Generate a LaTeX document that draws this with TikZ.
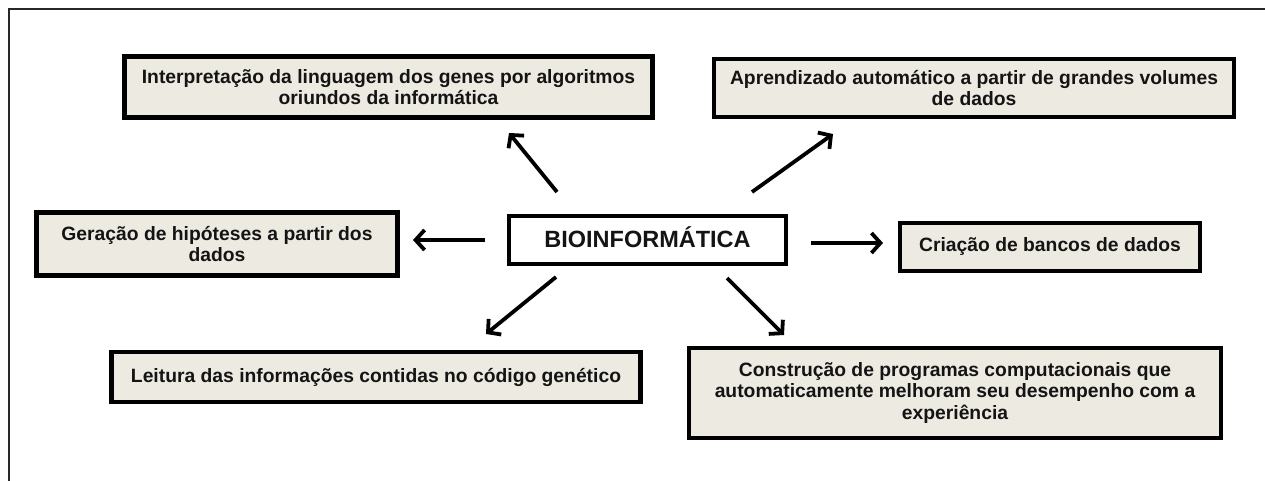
\documentclass[tikz,border=0pt]{standalone}
\usepackage{fontspec}
\setmainfont{Liberation Sans}
\usetikzlibrary{arrows.meta}
\definecolor{boxfill}{RGB}{237,235,225}
\definecolor{framecol}{RGB}{40,40,40}
\definecolor{txt}{RGB}{20,20,20}
\tikzset{
  infobox/.style={draw=black, line width=4.5pt, fill=boxfill, inner sep=0pt,
    align=center, text=txt, font=\fontsize{19.3}{21.5}\selectfont\bfseries},
  centerbox/.style={draw=black, line width=3.5pt, fill=white, inner sep=0pt,
    align=center, text=txt, font=\fontsize{23.5}{26}\selectfont\bfseries},
  arr/.style={line width=3.8pt, -{Straight Barb[length=9pt,width=20pt]}},
}
\begin{document}
\begin{tikzpicture}[x=1pt,y=-1pt]
\useasboundingbox (0,0) rectangle (1265,481);
\draw[framecol, line width=1.4pt] (9,481) -- (9,9) -- (1265,9);

\node[centerbox, minimum width=277pt, minimum height=48pt] (c) at (647.5,240) {};
\node[text=txt, font=\fontsize{23.5}{26}\selectfont\bfseries, inner sep=0pt] (ct) at (647.5,237) {BIOINFORMÁTICA};

\node[infobox, minimum width=528pt, minimum height=61pt] (t1) at (388.5,87)
  {Interpretação da linguagem dos genes por algoritmos\\oriundos da informática};
\node[infobox, minimum width=520pt, minimum height=58pt] (t2) at (974,88)
  {Aprendizado automático a partir de grandes volumes\\de dados};
\node[infobox, minimum width=361pt, minimum height=63pt] (t3) at (217,244)
  {Geração de hipóteses a partir dos\\dados};
\node[infobox, minimum width=300pt, minimum height=48pt] (t4) at (1050,247)
  {Criação de bancos de dados};
\node[infobox, minimum width=529pt, minimum height=50pt] (t5) at (376,377)
  {Leitura das informações contidas no código genético};
\node[infobox, minimum width=532pt, minimum height=90pt] (t6) at (955,393)
  {Construção de programas computacionais que\\automaticamente melhoram seu desempenho com a\\experiência};

\coordinate (a1s) at (557,192); \coordinate (a1e) at (509,133);
\coordinate (a2s) at (752,192); \coordinate (a2e) at (833,134);
\coordinate (a3s) at (485,240); \coordinate (a3e) at (413,240);
\coordinate (a4s) at (811,243); \coordinate (a4e) at (883,243);
\coordinate (a5s) at (556,277); \coordinate (a5e) at (486,334);
\coordinate (a6s) at (727,278); \coordinate (a6e) at (784,335);

\draw[arr] (a1s) -- (a1e);
\draw[arr] (a2s) -- (a2e);
\draw[arr] (a3s) -- (a3e);
\draw[arr] (a4s) -- (a4e);
\draw[arr] (a5s) -- (a5e);
\draw[arr] (a6s) -- (a6e);
\end{tikzpicture}
\end{document}
